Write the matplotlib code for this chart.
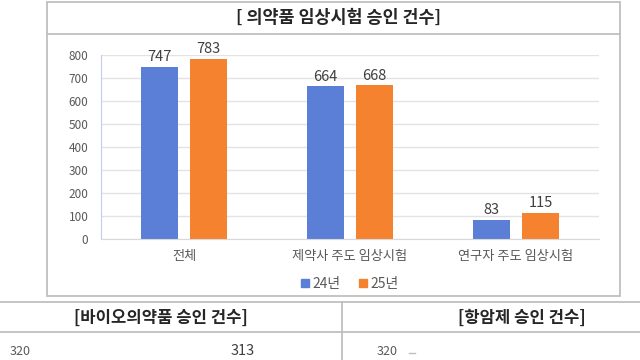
import numpy as np
import matplotlib
matplotlib.use("Agg")
import matplotlib.pyplot as plt
from matplotlib.lines import Line2D
from matplotlib.patches import Rectangle, Patch

plt.rcParams['font.family'] = ['Noto Sans CJK KR', 'DejaVu Sans']

# ==============================
# Data
# ==============================

title = '[ 의약품 임상시험 승인 건수]'
categories = ['전체', '제약사 주도 임상시험', '연구자 주도 임상시험']
series_names = ['24년', '25년']
values_24 = [747, 664, 83]
values_25 = [783, 668, 115]
y_ticks = [0, 100, 200, 300, 400, 500, 600, 700, 800]

sub_titles = ['[바이오의약품 승인 건수]', '[항암제 승인 건수]']

blue = '#5B7FD6'
orange = '#F5822F'
frame = '#BFBFBF'
text_gray = '#595959'

W, H = 640, 360


def fx(x):
    return x / W


def fy(y):
    return 1 - y / H


fig = plt.figure(figsize=(6.4, 3.6), dpi=100)
fig.patch.set_facecolor('white')

# ==============================
# Frame lines
# ==============================

fig.add_artist(Rectangle((fx(47), fy(296)), fx(620) - fx(47), fy(2) - fy(296),
                         transform=fig.transFigure, fill=False,
                         edgecolor=frame, linewidth=1.3))
fig.add_artist(Line2D([fx(47), fx(620)], [fy(34), fy(34)],
                      transform=fig.transFigure, color=frame, linewidth=1.3))
fig.add_artist(Line2D([0, 1], [fy(302), fy(302)],
                      transform=fig.transFigure, color=frame, linewidth=1.3))
fig.add_artist(Line2D([0, 1], [fy(332), fy(332)],
                      transform=fig.transFigure, color=frame, linewidth=1.3))
fig.add_artist(Line2D([fx(342), fx(342)], [fy(302), 0],
                      transform=fig.transFigure, color=frame, linewidth=1.3))

fig.text(fx(338), fy(18), title, ha='center', va='center',
         fontsize=12.5, fontweight='bold', color='#262626')

# ==============================
# Bar chart
# ==============================

ax = fig.add_axes([fx(101), fy(239), fx(599) - fx(101), fy(55) - fy(239)])

x = np.arange(len(categories))
w = 0.225
off = 0.148

b1 = ax.bar(x - off, values_24, w, color=blue, label=series_names[0])
b2 = ax.bar(x + off, values_25, w, color=orange, label=series_names[1])

for bars in (b1, b2):
    for bar in bars:
        ax.annotate(f'{int(bar.get_height())}',
                    (bar.get_x() + bar.get_width() / 2, bar.get_height()),
                    xytext=(0, 2), textcoords='offset points',
                    ha='center', va='bottom', fontsize=10.5, color='#404040')

ax.set_xlim(-0.5, 2.5)
ax.set_ylim(0, 800)
ax.set_yticks(y_ticks)
ax.set_xticks(x)
ax.set_xticklabels(categories)
ax.tick_params(axis='y', length=0, pad=9, labelsize=8.5, labelcolor=text_gray)
ax.tick_params(axis='x', length=0, pad=8, labelsize=9.5, labelcolor=text_gray)

ax.yaxis.grid(True, color='#E3E3E3', linewidth=1)
ax.set_axisbelow(True)
for s in ['top', 'right']:
    ax.spines[s].set_visible(False)
ax.spines['left'].set_color('#C5CCE8')
ax.spines['bottom'].set_color('#D9D9D9')

handles = [Patch(color=blue, label=series_names[0]),
           Patch(color=orange, label=series_names[1])]
fig.legend(handles=handles, loc='center', bbox_to_anchor=(fx(350), fy(284)),
           ncol=2, frameon=False, fontsize=10, handlelength=0.55,
           handleheight=0.55, handletextpad=0.3, columnspacing=1.3,
           labelcolor=text_gray)

# ==============================
# Lower panels (cut off in the source)
# ==============================

fig.text(fx(161), fy(318), sub_titles[0], ha='center', va='center',
         fontsize=12, fontweight='bold', color='#262626')
fig.text(fx(522), fy(318), sub_titles[1], ha='center', va='center',
         fontsize=12, fontweight='bold', color='#262626')

fig.text(fx(20), fy(358), '320', ha='center', va='bottom',
         fontsize=9, color=text_gray)
fig.text(fx(243), fy(358), '313', ha='center', va='bottom',
         fontsize=10.5, color='#404040')
fig.text(fx(387), fy(358), '320', ha='center', va='bottom',
         fontsize=9, color=text_gray)
fig.add_artist(Line2D([fx(409), fx(415)], [fy(353), fy(353)],
                      transform=fig.transFigure, color=frame, linewidth=1))

fig.savefig('out.png', dpi=100)
